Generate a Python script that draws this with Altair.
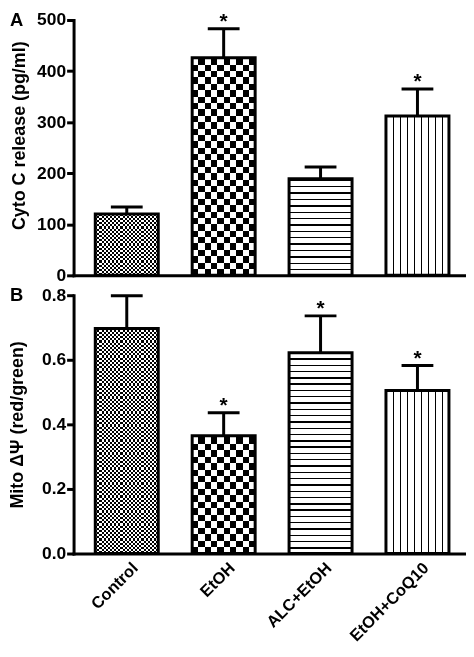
import altair as alt
import pandas as pd

# ---- data ----
groups = ["Control", "EtOH", "ALC+EtOH", "EtOH+CoQ10"]
cyto_mean = [120, 426, 189, 312]
cyto_sem = [14, 57, 23, 53]
cyto_star = ["", "*", "", "*"]
mito_mean = [0.697, 0.365, 0.622, 0.505]
mito_sem = [0.101, 0.071, 0.114, 0.077]
mito_star = ["", "*", "*", "*"]
cyto_ticks = [0, 100, 200, 300, 400, 500]
mito_ticks = [0.0, 0.2, 0.4, 0.6, 0.8]

FONT = "Liberation Sans"
W = 395


def grad(n, duty, along_y, first="black", second="white"):
    stops = []
    for k in range(n):
        a = round(k / n, 5)
        b = round((k + duty) / n, 5)
        c = round((k + 1) / n, 5)
        stops += [
            alt.GradientStop(offset=a, color=first),
            alt.GradientStop(offset=b, color=first),
            alt.GradientStop(offset=b, color=second),
            alt.GradientStop(offset=c, color=second),
        ]
    if along_y:
        return alt.LinearGradient(gradient="linear", stops=stops, x1=0, x2=0, y1=0, y2=1)
    return alt.LinearGradient(gradient="linear", stops=stops, x1=0, x2=1, y1=0, y2=0)


def panel(mean, sem, star, ymax, ticks, fmt, title, letter, H, x_labels,
          title_y=None, title_pad=8):
    df = pd.DataFrame({
        "group": groups,
        "mean": mean,
        "upper": [m + s for m, s in zip(mean, sem)],
        "star": star,
    })
    base = alt.Chart(df).transform_calculate(top=str(ymax), zero="0")

    xscale = alt.Scale(paddingInner=0.35, paddingOuter=0.2, align=0.56)
    if x_labels:
        xaxis = alt.Axis(ticks=False, labelAngle=-45, labelAlign="right", labelBaseline="top",
                         labelFontSize=16.5, labelPadding=6, labelOffset=3,
                         labelFontWeight="bold", labelColor="black", domainColor="black",
                         domainWidth=3, domainCap="square", grid=False, labelOverlap=False)
    else:
        xaxis = alt.Axis(ticks=False, labels=False, domainColor="black", domainWidth=3,
                         domainCap="square", grid=False)
    X = alt.X("group:N", sort=groups, scale=xscale, axis=xaxis, title=None)

    yscale = alt.Scale(domain=[0, ymax], nice=False)
    ax_kw = dict(values=ticks, format=fmt, grid=False, domainColor="black", domainWidth=3,
                 domainCap="square", tickColor="black", tickWidth=3, tickSize=7,
                 labelFontSize=17.5, labelFontWeight="bold", labelColor="black", labelPadding=1,
                 titleFontSize=18, titleFontWeight="bold", titleColor="black",
                 titlePadding=title_pad)
    if title_y is not None:
        ax_kw["titleY"] = title_y
    yaxis = alt.Axis(**ax_kw)

    def Y(f):
        return alt.Y(f, type="quantitative", scale=yscale, axis=yaxis, title=title)

    rows_fine = round(H / 2.15 / 2)
    rows_coarse = round(H / 6.4 / 2)
    rows_lines = round(H / 6.4)
    patterns = {
        "Control": (grad(rows_fine, 0.5, True), grad(15, 0.5, False, "white", "black")),
        "EtOH": (grad(rows_coarse, 0.5, True), grad(5, 0.5, False, "white", "black")),
        "ALC+EtOH": (grad(rows_lines, 0.22, True), None),
        "EtOH+CoQ10": (grad(9, 0.19, False), None),
    }

    layers = []
    for g in groups:
        fill, overlay = patterns[g]
        sel = base.transform_filter(alt.datum.group == g)
        layers.append(sel.mark_bar(fill=fill, strokeWidth=0).encode(
            x=X, y=Y("top"), y2=alt.Y2("zero")))
        if overlay is not None:
            layers.append(sel.mark_bar(fill=overlay, strokeWidth=0, blend="difference").encode(
                x=X, y=Y("top"), y2=alt.Y2("zero")))
    # white cover above each bar
    layers.append(base.mark_bar(fill="white", stroke="white", strokeWidth=2).encode(
        x=X, y=Y("mean"), y2=alt.Y2("top")))
    # outline
    layers.append(base.mark_bar(fillOpacity=0, stroke="black", strokeWidth=3).encode(
        x=X, y=Y("mean"), y2=alt.Y2("zero")))
    # error bars
    layers.append(base.mark_rule(stroke="black", strokeWidth=3).encode(
        x=X, y=Y("mean"), y2=alt.Y2("upper")))
    layers.append(base.mark_tick(color="black", size=32, thickness=3, opacity=1).encode(
        x=X, y=Y("upper")))
    layers.append(base.mark_text(fontSize=21, fontWeight="bold", color="black",
                                 baseline="alphabetic", dy=-1).encode(
        x=X, y=Y("upper"), text="star:N"))
    # panel letter
    layers.append(alt.Chart(pd.DataFrame({"letter": [letter]})).mark_text(
        align="left", baseline="middle", fontSize=18.5, fontWeight="bold", color="black").encode(
        x=alt.value(-64), y=alt.value(0), text="letter:N"))

    return alt.layer(*layers).properties(width=W, height=H)


pa = panel(cyto_mean, cyto_sem, cyto_star, 500, cyto_ticks, "d",
           "Cyto C release (pg/ml)", "A", 257, False, title_y=116, title_pad=8)
pb = panel(mito_mean, mito_sem, mito_star, 0.8, mito_ticks, ".1f",
           "Mito \u0394\u03a8 (red/green)", "B", 260, True, title_pad=15)

chart = alt.vconcat(pa, pb, spacing=20, bounds="flush").properties(
    padding={"left": 0, "top": 0, "right": 0, "bottom": 0}
).configure(font=FONT).configure_view(stroke=None)

chart.save("out.html", embed_options={"renderer": "svg", "actions": False})
